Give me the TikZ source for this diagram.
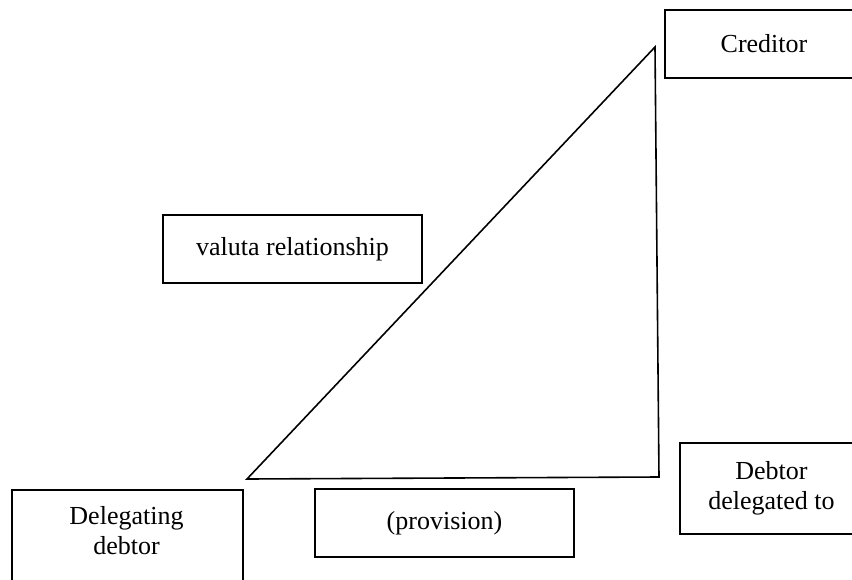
\documentclass[tikz,border=0pt]{standalone}
\usepackage{fontspec}
\setmainfont{Liberation Serif}
\begin{document}
\begin{tikzpicture}[x=1pt,y=-1pt,
  box/.style={draw=black, line width=1.8pt, rectangle, inner sep=0pt},
  lbl/.style={font=\fontsize{26}{30}\selectfont, align=center, inner sep=0pt},
  tri/.style={draw=black, line width=1.6pt, line join=miter}]
\useasboundingbox (0,0) rectangle (852,579);
\clip (0,0) rectangle (852,579);
% boxes
\node[box, lbl, minimum width=198pt, minimum height=68pt] (cred) at (764,44) {Creditor};
\node[box, lbl, minimum width=259pt, minimum height=68pt] (val) at (292.5,249) {valuta relationship};
\node[box, lbl, minimum width=259pt, minimum height=68pt] (prov) at (444.5,523) {(provision)};
\node[box, lbl, minimum width=183pt, minimum height=91pt] (ddt) at (771.5,488.5) {Debtor\\delegated to};
\node[box, minimum width=231pt, minimum height=120pt, anchor=north west] (dgd) at (11,489) {};
\node[lbl] (dgdtxt) at (126.5,531) {Delegating\\debtor};
% triangle
\coordinate (A) at (247,479);
\coordinate (B) at (655,47);
\coordinate (C) at (659,477);
\draw[tri] (A) -- (B) -- (C) -- cycle;
\end{tikzpicture}
\end{document}
